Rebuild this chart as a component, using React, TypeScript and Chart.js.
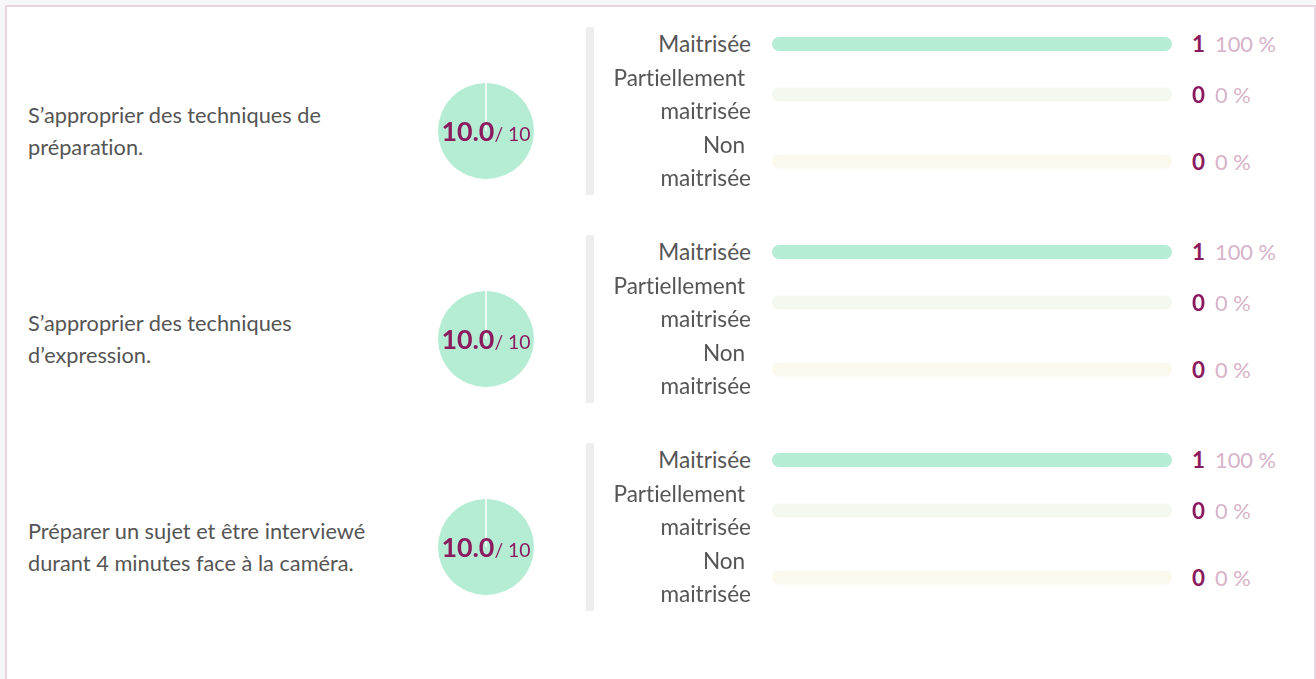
import React, { useEffect, useRef } from "react";
import { Chart, registerables } from "chart.js";

Chart.register(...registerables);

// ---------- DATA ----------
const competences: string[] = [
  "S’approprier des techniques de\npréparation.",
  "S’approprier des techniques\nd’expression.",
  "Préparer un sujet et être interviewé\ndurant 4 minutes face à la caméra.",
];
const scores: number[] = [10.0, 10.0, 10.0];
const scoreMax = 10;
const levelLabels: string[] = ["Maitrisée", "Partiellement \nmaitrisée", "Non \nmaitrisée"];
const levelCounts: number[][] = [
  [1, 0, 0],
  [1, 0, 0],
  [1, 0, 0],
];

// ---------- STYLE ----------
const FONT = "Lato, 'Noto Sans', sans-serif";
const PIE_COLOR = "#b5ecd4";
const PIE_REST = "#eeeeee";
const LEVEL_STRONG = ["#b5ecd4", "#d7efc2", "#f5e7b5"];
const LEVEL_PALE = ["#e8f8f0", "#f3f9ee", "#fcf9ee"];
const MAGENTA = "#8b1b5e";
const PINK = "#d8b2c8";
const TEXT = "#555555";
const OX = 7; // page offset of box content
const OY = 7;
const BLOCK_TOP = 27;
const BLOCK_PITCH = 208;
const LINE_H = 33.6;

function PieScore({ score, max }: { score: number; max: number }) {
  const ref = useRef<HTMLCanvasElement | null>(null);
  useEffect(() => {
    if (!ref.current) return;
    const chart = new Chart(ref.current, {
      type: "pie",
      data: {
        labels: ["Score", "Reste"],
        datasets: [
          {
            data: [score, max - score],
            backgroundColor: [PIE_COLOR, PIE_REST],
            borderColor: "#ffffff",
            borderWidth: 1,
          },
        ],
      },
      options: {
        responsive: false,
        animation: false,
        events: [],
        layout: { padding: 0 },
        plugins: { legend: { display: false }, tooltip: { enabled: false } },
      },
    });
    return () => chart.destroy();
  }, [score, max]);
  return <canvas ref={ref} width={98} height={98} style={{ width: 98, height: 98, display: "block" }} />;
}

function LevelBar({
  label,
  count,
  total,
  strong,
  pale,
  height,
}: {
  label: string;
  count: number;
  total: number;
  strong: string;
  pale: string;
  height: number;
}) {
  const ref = useRef<HTMLCanvasElement | null>(null);
  useEffect(() => {
    if (!ref.current) return;
    const chart = new Chart(ref.current, {
      type: "bar",
      data: {
        labels: [label],
        datasets: [
          {
            label: "count",
            data: [count],
            backgroundColor: strong,
            grouped: false,
            order: 0,
            borderRadius: 7,
            borderSkipped: false,
            barThickness: 14,
            inflateAmount: 0,
          } as any,
          {
            label: "total",
            data: [total],
            backgroundColor: pale,
            grouped: false,
            order: 1,
            borderRadius: 7,
            borderSkipped: false,
            barThickness: 14,
            inflateAmount: 0,
          } as any,
        ],
      },
      options: {
        indexAxis: "y",
        responsive: false,
        animation: false,
        events: [],
        layout: { padding: 0 },
        scales: {
          x: { display: false, min: 0, max: total },
          y: { display: false },
        },
        plugins: { legend: { display: false }, tooltip: { enabled: false } },
      },
    });
    return () => chart.destroy();
  }, [label, count, total, strong, pale, height]);
  return <canvas ref={ref} width={400} height={height} style={{ width: 400, height, display: "block" }} />;
}

export default function App() {
  useEffect(() => {
    document.body.style.margin = "0";
    document.body.style.background = "#f7f7f7";
  }, []);

  const abs = (x: number, y: number): React.CSSProperties => ({
    position: "absolute",
    left: x - OX,
    top: y - OY,
  });

  return (
    <div
      style={{
        position: "absolute",
        left: 5,
        top: 5,
        width: 1311,
        height: 674,
        boxSizing: "border-box",
        border: "2px solid #ead6e3",
        borderBottom: "none",
        background: "#ffffff",
        fontFamily: FONT,
        fontVariantLigatures: "none",
        overflow: "hidden",
      }}
    >
      {competences.map((comp, i) => {
        const T = BLOCK_TOP + BLOCK_PITCH * i;
        const counts = levelCounts[i];
        const total = counts.reduce((a, b) => a + b, 0);
        let lineAcc = 0;
        return (
          <React.Fragment key={i}>
            <div
              style={{
                ...abs(28, T + 104 - 32.4),
                whiteSpace: "pre",
                fontSize: 21.75,
                lineHeight: "32.4px",
                color: TEXT,
              }}
            >
              {comp}
            </div>
            <div style={abs(437, T + 55)}>
              <PieScore score={scores[i]} max={scoreMax} />
            </div>
            <div
              style={{
                ...abs(386, T + 54),
                width: 200,
                height: 100,
                display: "flex",
                alignItems: "center",
                justifyContent: "center",
                color: MAGENTA,
                whiteSpace: "pre",
              }}
            >
              <span>
                <span style={{ fontWeight: 700, fontSize: 26.8 }}>{scores[i].toFixed(1)}</span>
                <span style={{ fontSize: 19.4 }}>{"/ " + scoreMax}</span>
              </span>
            </div>
            <div style={{ ...abs(586, T), width: 8, height: 168, background: "#eeeeee" }} />
            {levelLabels.map((lab, j) => {
              const nLines = lab.split("\n").length;
              const y = T + lineAcc * LINE_H;
              const h = nLines * LINE_H;
              lineAcc += nLines;
              const pct = total > 0 ? Math.round((counts[j] / total) * 100) : 0;
              return (
                <React.Fragment key={j}>
                  <div
                    style={{
                      ...abs(551, y),
                      width: 200,
                      textAlign: "right",
                      whiteSpace: "pre",
                      fontSize: 22.6,
                      lineHeight: LINE_H + "px",
                      color: TEXT,
                    }}
                  >
                    {lab}
                  </div>
                  <div style={abs(772, y + (h - Math.round(h)) / 2)}>
                    <LevelBar
                      label={lab.replace("\n", "")}
                      count={counts[j]}
                      total={total}
                      strong={LEVEL_STRONG[j]}
                      pale={LEVEL_PALE[j]}
                      height={Math.round(h)}
                    />
                  </div>
                  <div
                    style={{
                      ...abs(1192, y),
                      height: h,
                      display: "flex",
                      alignItems: "center",
                      whiteSpace: "pre",
                    }}
                  >
                    <span style={{ fontWeight: 700, color: MAGENTA, fontSize: 22.4 }}>{String(counts[j])}</span>
                    <span style={{ color: PINK, marginLeft: 10, fontSize: 21.8 }}>{pct + "\u00a0%"}</span>
                  </div>
                </React.Fragment>
              );
            })}
          </React.Fragment>
        );
      })}
    </div>
  );
}
